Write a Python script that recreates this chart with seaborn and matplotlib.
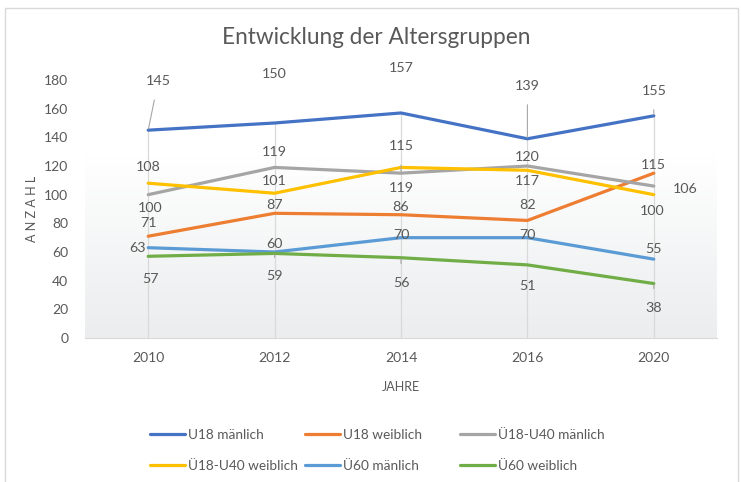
import numpy as np
import pandas as pd
import matplotlib.pyplot as plt
import seaborn as sns
from matplotlib.patches import Rectangle
from matplotlib.colors import LinearSegmentedColormap

years = ["2010", "2012", "2014", "2016", "2020"]
groups = ["U18 mänlich", "U18 weiblich", "Ü18-U40 mänlich",
          "Ü18-U40 weiblich", "Ü60 mänlich", "Ü60 weiblich"]
u18_m = [145, 150, 157, 139, 155]
u18_w = [71, 87, 86, 82, 115]
u40_m = [100, 119, 115, 120, 106]
u40_w = [108, 101, 119, 117, 100]
u60_m = [63, 60, 70, 70, 55]
u60_w = [57, 59, 56, 51, 38]
colors = ["#4472C4", "#ED7D31", "#A5A5A5", "#FFC000", "#5B9BD5", "#70AD47"]

# label offsets in pixels (dx, dy) per series, as Excel placed them
offsets = [
    [(10, 49), (0, 49), (0, 45), (0, 53), (0, 25)],
    [(0, 13), (0, 8), (0, 8), (0, 15), (0, 8)],
    [(2, -13), (0, 15), (0, 27), (0, 9), (31, -3)],
    [(0, 16), (0, 12), (0, -21), (0, -11), (-2, -16)],
    [(-11, 0), (0, 8), (0, 3), (0, 3), (0, 10)],
    [(2, -23), (0, -23), (0, -25), (0, -21), (0, -24)],
]
leaders = [(0, 0), (0, 3), (0, 4), (2, 2), (5, 1), (5, 2), (5, 4)]

series = [u18_m, u18_w, u40_m, u40_w, u60_m, u60_w]
pos = np.arange(len(years))
df = pd.DataFrame({
    "pos": np.tile(pos, len(groups)),
    "value": np.concatenate(series),
    "group": np.repeat(groups, len(years)),
})

sns.set_style("white")
plt.rcParams["font.family"] = ["Lato", "DejaVu Sans"]
txt = "#595959"

fig = plt.figure(figsize=(7.41, 4.82), dpi=100)
ax = fig.add_axes([85 / 741, 1 - 338 / 482, 632 / 741, 258 / 482])

# frame around the chart
fig.patches.append(Rectangle((5 / 741, -0.01), 733 / 741, 1 - 8 / 482 + 0.01,
                             transform=fig.transFigure, fill=False,
                             edgecolor="#D9D9D9", lw=1))

# plot area gradient
grad = np.linspace(0, 1, 100).reshape(-1, 1)
ax.imshow(grad, extent=(-0.5, 4.5, 0, 128), aspect="auto", origin="upper",
          cmap=LinearSegmentedColormap.from_list("g", ["#FFFFFF", "#EBEDEE"]),
          zorder=0)

# drop lines
top = np.max(np.array(series), axis=0)
ax.vlines(pos, 0, top, color="#D9D9D9", lw=0.9, zorder=1)

sns.lineplot(data=df, x="pos", y="value", hue="group", hue_order=groups,
             palette=colors, lw=2.3, ax=ax, legend=True, zorder=3)

for s, vals in enumerate(series):
    for i, v in enumerate(vals):
        dx, dy = offsets[s][i]
        lead = (s, i) in leaders
        ax.annotate(str(v), xy=(i, v), xytext=(dx, dy), textcoords="offset pixels",
                    ha="center", va="center", fontsize=10.3, color=txt, zorder=4,
                    arrowprops=dict(arrowstyle="-", color="#A6A6A6", lw=0.8,
                                    shrinkA=7, shrinkB=1) if lead else None)

ax.set_xlim(-0.5, 4.5)
ax.set_ylim(0, 180)
ax.set_yticks(range(0, 181, 20))
ax.set_xticks(pos)
ax.set_xticklabels(years)
ax.tick_params(axis="both", length=0, labelsize=10, labelcolor=txt)
ax.tick_params(axis="y", pad=12)
ax.tick_params(axis="x", pad=10)
for sp in ["top", "right", "left"]:
    ax.spines[sp].set_visible(False)
ax.spines["bottom"].set_color("#D9D9D9")
ax.set_facecolor("none")

ax.set_ylabel("A N Z A H L", fontsize=9, color=txt)
ax.set_xlabel("JAHRE", fontsize=9, color=txt, labelpad=12)
ax.yaxis.set_label_coords(-0.074, 0.5)

fig.text(376 / 741, 1 - 38 / 482, "Entwicklung der Altersgruppen",
         ha="center", va="center", fontsize=16.3, color=txt)

# legend: three columns of two entries, placed like Excel
handles, labels = ax.get_legend_handles_labels()
ax.get_legend().remove()
col_x = [150, 305, 460]
for c, x in enumerate(col_x):
    idx = [c, c + 3]
    leg = fig.legend([handles[k] for k in idx], [labels[k] for k in idx],
                     loc="upper left", bbox_to_anchor=(x / 741, 1 - 429 / 482),
                     frameon=False, fontsize=9.8, handlelength=2.6,
                     handletextpad=0.2, labelspacing=1.4, borderpad=0,
                     borderaxespad=0)
    for t in leg.get_texts():
        t.set_color(txt)
    for h in leg.get_lines():
        h.set_linewidth(2.3)

fig.savefig("out.png", dpi=100)
